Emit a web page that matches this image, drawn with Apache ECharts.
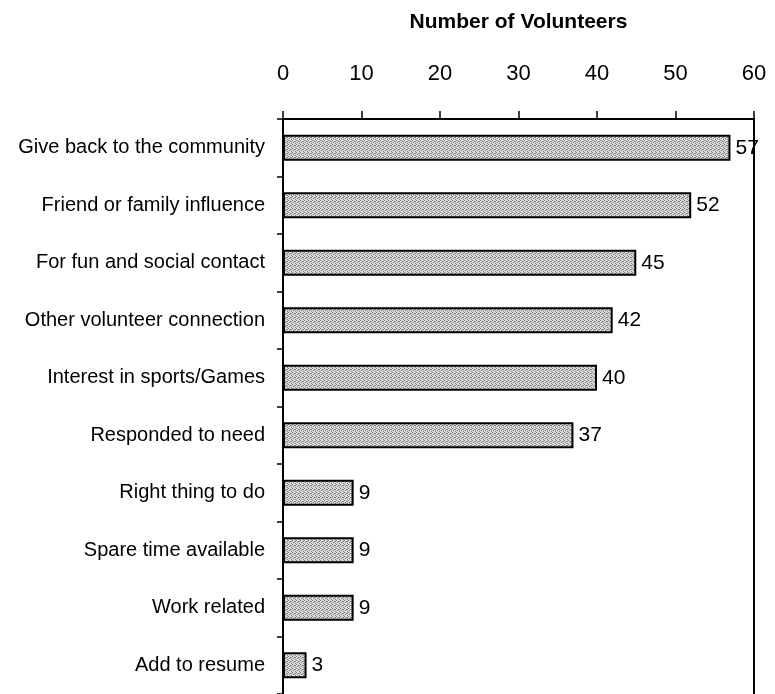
<!DOCTYPE html>
<html>
<head>
<meta charset="utf-8">
<script src="https://cdn.jsdelivr.net/npm/echarts@6/dist/echarts.min.js"></script>
<style>
html,body{margin:0;padding:0;background:#fff;}
#chart{width:775px;height:694px;}
</style>
</head>
<body>
<div id="chart"></div>
<script>
const categories = [
  "Give back to the community",
  "Friend or family influence",
  "For fun and social contact",
  "Other volunteer connection",
  "Interest in sports/Games",
  "Responded to need",
  "Right thing to do",
  "Spare time available",
  "Work related",
  "Add to resume"
];
const volunteers = [57, 52, 45, 42, 40, 37, 9, 9, 9, 3];
const axisTitle = "Number of Volunteers";

// stipple pattern for bar fill
const pat = document.createElement('canvas');
pat.width = 4; pat.height = 4;
const pc = pat.getContext('2d');
pc.fillStyle = '#d6d6d6'; pc.fillRect(0,0,4,4);
pc.fillStyle = '#858585';
[[0,0],[2,1],[1,2],[3,3],[3,1]].forEach(p => pc.fillRect(p[0],p[1],1,1));

const font = '"Liberation Sans", Arial, sans-serif';
const chart = echarts.init(document.getElementById('chart'), null, {renderer:'canvas'});
chart.setOption({
  backgroundColor: '#fff',
  animation: false,
  grid: {left: 283, right: 21, top: 119, bottom: 0, containLabel: false},
  xAxis: {
    type: 'value', position: 'top', min: 0, max: 60, interval: 10,
    name: axisTitle, nameLocation: 'middle', nameGap: 86,
    nameTextStyle: {fontFamily: font, fontSize: 21, fontWeight: 'bold', color: '#000'},
    axisLine: {show: true, lineStyle: {color: '#000', width: 2}},
    axisTick: {show: true, inside: false, length: 8, lineStyle: {color: '#000', width: 1.5}},
    axisLabel: {fontFamily: font, fontSize: 22, color: '#000', margin: 34},
    splitLine: {show: false}
  },
  yAxis: {
    type: 'category', data: categories, inverse: true,
    axisLine: {show: true, lineStyle: {color: '#000', width: 2}},
    axisTick: {show: true, length: 6, lineStyle: {color: '#000', width: 1.5}},
    axisLabel: {fontFamily: font, fontSize: 20, color: '#000', margin: 18},
    splitLine: {show: false}
  },
  series: [{
    type: 'bar', data: volunteers, barWidth: '45%',
    itemStyle: {color: {image: pat, repeat: 'repeat'}, borderColor: '#000', borderWidth: 2},
    label: {show: true, position: 'right', distance: 5, fontFamily: font, fontSize: 21, color: '#000'}
  }],
  graphic: [{
    type: 'line', z: 10,
    shape: {x1: 754, y1: 119, x2: 754, y2: 694},
    style: {stroke: '#000', lineWidth: 2}
  }]
});
</script>
</body>
</html>
